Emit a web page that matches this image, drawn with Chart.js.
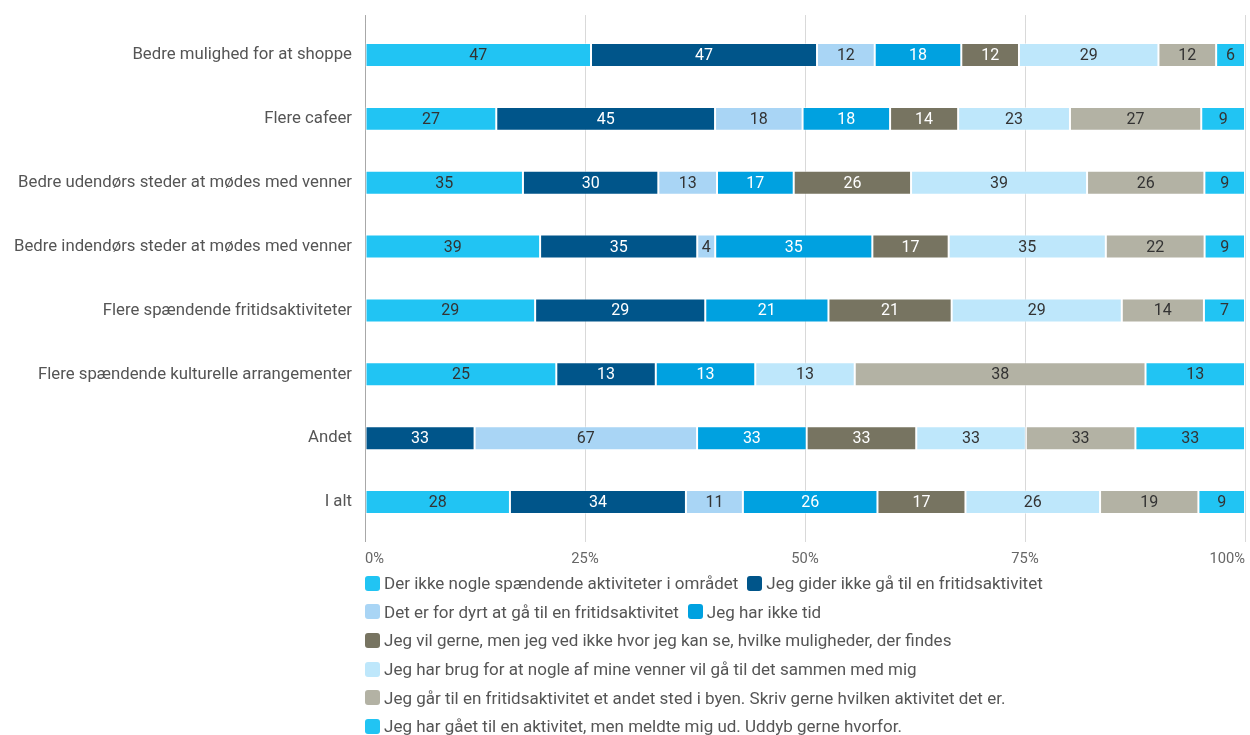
<!DOCTYPE html>
<html>
<head>
<meta charset="utf-8">
<script src="https://cdn.jsdelivr.net/npm/chart.js@4.4.1/dist/chart.umd.min.js"></script>
<style>
  html, body { margin: 0; padding: 0; background: #fff; }
  #wrap { position: relative; width: 1250px; height: 735px; }
  #chartBox { position: absolute; left: 0; top: 0; width: 1250px; height: 570px; }
  #legend { position: absolute; left: 365px; top: 569px; font-family: Roboto, sans-serif; font-size: 17px; color: #555; }
  .lrow { display: flex; align-items: center; height: 28.6px; white-space: nowrap; }
  .litem { display: flex; align-items: center; margin-right: 9px; }
  .lbox { width: 15px; height: 15px; border-radius: 3px; margin-right: 4px; }
</style>
</head>
<body>
<div id="wrap">
  <div id="chartBox"><canvas id="c"></canvas></div>
  <div id="legend"></div>
</div>
<script>
const categories = [
  "Bedre mulighed for at shoppe",
  "Flere cafeer",
  "Bedre udendørs steder at mødes med venner",
  "Bedre indendørs steder at mødes med venner",
  "Flere spændende fritidsaktiviteter",
  "Flere spændende kulturelle arrangementer",
  "Andet",
  "I alt"
];
const seriesNames = [
  "Der ikke nogle spændende aktiviteter i området",
  "Jeg gider ikke gå til en fritidsaktivitet",
  "Det er for dyrt at gå til en fritidsaktivitet",
  "Jeg har ikke tid",
  "Jeg vil gerne, men jeg ved ikke hvor jeg kan se, hvilke muligheder, der findes",
  "Jeg har brug for at nogle af mine venner vil gå til det sammen med mig",
  "Jeg går til en fritidsaktivitet et andet sted i byen. Skriv gerne hvilken aktivitet det er.",
  "Jeg har gået til en aktivitet, men meldte mig ud. Uddyb gerne hvorfor."
];
const s1 = [47, 27, 35, 39, 29, 25, null, 28];
const s2 = [47, 45, 30, 35, 29, 13, 33, 34];
const s3 = [12, 18, 13, 4, null, null, 67, 11];
const s4 = [18, 18, 17, 35, 21, 13, 33, 26];
const s5 = [12, 14, 26, 17, 21, null, 33, 17];
const s6 = [29, 23, 39, 35, 29, 13, 33, 26];
const s7 = [12, 27, 26, 22, 14, 38, 33, 19];
const s8 = [6, 9, 9, 9, 7, 13, 33, 9];
const xTicks = [0, 25, 50, 75, 100];

const seriesValues = [s1, s2, s3, s4, s5, s6, s7, s8];
const colors = ["#21c4f3", "#00558a", "#a9d5f5", "#00a1e0", "#777461", "#bee7fb", "#b3b2a4", "#21c4f3"];
const labelColors = ["#333", "#fff", "#333", "#fff", "#fff", "#333", "#333", "#333"];

const totals = categories.map((_, i) => seriesValues.reduce((a, s) => a + (s[i] || 0), 0));

const datasets = seriesValues.map((vals, k) => ({
  label: seriesNames[k],
  data: vals.map((v, i) => v == null ? null : v / totals[i] * 100),
  raw: vals,
  backgroundColor: colors[k],
  borderColor: "rgba(255,255,255,0.45)",
  borderWidth: 1,
  borderSkipped: false,
  categoryPercentage: 1,
  barPercentage: 0.375,
  stack: "s"
}));

const valueLabels = {
  id: "valueLabels",
  afterDatasetsDraw(chart) {
    const ctx = chart.ctx;
    ctx.save();
    ctx.font = "16px Roboto, sans-serif";
    ctx.textAlign = "center";
    ctx.textBaseline = "middle";
    chart.data.datasets.forEach((ds, k) => {
      const meta = chart.getDatasetMeta(k);
      meta.data.forEach((el, i) => {
        const v = ds.raw[i];
        if (v == null) return;
        const cx = (el.x + el.base) / 2;
        ctx.fillStyle = labelColors[k];
        ctx.fillText(String(v), cx, el.y + 1);
      });
    });
    ctx.restore();
  }
};

const gridTop = {
  id: "gridTop",
  beforeDatasetsDraw(chart) {
    const ctx = chart.ctx;
    const xs = chart.scales.x;
    const top = chart.chartArea.top;
    ctx.save();
    ctx.lineWidth = 1;
    xs.ticks.forEach((t, i) => {
      const px = Math.round(xs.getPixelForValue(t.value)) + 0.5;
      ctx.strokeStyle = i === 0 ? "#a8a8a8" : "#d9d9d9";
      ctx.beginPath();
      ctx.moveTo(px, top - 8);
      ctx.lineTo(px, top);
      ctx.stroke();
    });
    ctx.restore();
  }
};

new Chart(document.getElementById("c"), {
  type: "bar",
  data: { labels: categories, datasets },
  options: {
    indexAxis: "y",
    responsive: true,
    maintainAspectRatio: false,
    animation: false,
    layout: { padding: { top: 23, right: 0, bottom: 0, left: 0 } },
    plugins: { legend: { display: false }, tooltip: { enabled: false } },
    scales: {
      x: {
        stacked: true,
        min: 0, max: 100,
        afterBuildTicks(s) { s.ticks = xTicks.map(v => ({ value: v })); },
        afterFit(s) { s.height = 36; s.paddingRight = 5; s.paddingLeft = 0; },
        border: { display: false },
        grid: {
          color: (c) => c.index === 0 ? "#a8a8a8" : "#d9d9d9",
          tickLength: 8,
          drawTicks: true
        },
        ticks: {
          align: "inner",
          padding: 9,
          color: "#666",
          font: { family: "Roboto, sans-serif", size: 14.7 },
          callback: (v) => v + "%"
        }
      },
      y: {
        stacked: true,
        afterFit(s) { s.width = 365; },
        border: { display: false },
        grid: { display: false, drawTicks: false },
        ticks: {
          padding: 13,
          color: "#555",
          font: { family: "Roboto, sans-serif", size: 16.75 }
        }
      }
    }
  },
  plugins: [valueLabels, gridTop]
});

const legendRows = [[0, 1], [2, 3], [4], [5], [6], [7]];
const legendEl = document.getElementById("legend");
legendRows.forEach(row => {
  const r = document.createElement("div");
  r.className = "lrow";
  row.forEach(k => {
    const it = document.createElement("div");
    it.className = "litem";
    const b = document.createElement("div");
    b.className = "lbox";
    b.style.background = colors[k];
    const t = document.createElement("span");
    t.textContent = seriesNames[k];
    it.appendChild(b);
    it.appendChild(t);
    r.appendChild(it);
  });
  legendEl.appendChild(r);
});
</script>
</body>
</html>
